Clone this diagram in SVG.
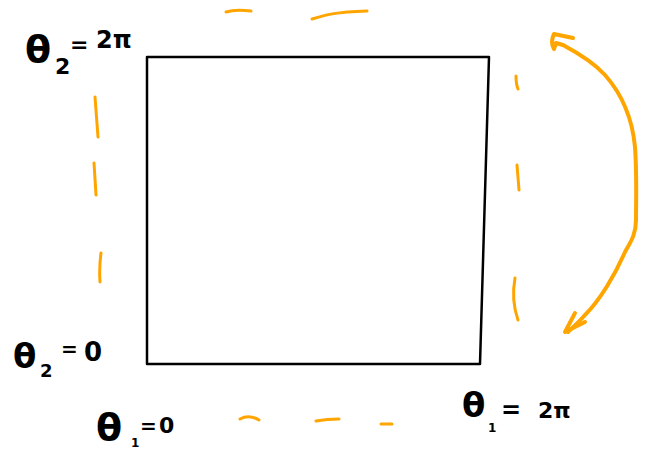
<svg xmlns="http://www.w3.org/2000/svg" width="652" height="455" viewBox="0 0 652 455">
<style>
.dash{fill:none;stroke:#FFA500;stroke-width:3;stroke-linecap:round;stroke-linejoin:round}
.arrow{fill:none;stroke:#FFA500;stroke-width:4;stroke-linecap:round;stroke-linejoin:round}
.lbl{font-family:"DejaVu Sans","Liberation Sans",sans-serif;font-weight:bold;fill:#000}
.sq{fill:none;stroke:#000;stroke-width:2.5;stroke-linejoin:round}
</style>
<rect width="652" height="455" fill="#fff"/>
<g id="square">
<path class="sq" d="M147,57 L489,57 L480,364 L147,364 Z"/>
</g>
<g id="connectors">
<g id="dashes">
<path class="dash" d="M226,12 Q235,9 251,11"/>
<path class="dash" d="M312,19 C325,15 335,12 367,11"/>
<path class="dash" d="M95,97 L98,137"/>
<path class="dash" d="M94,163 L96,195"/>
<path class="dash" d="M101,253 Q99,268 100,282"/>
<path class="dash" d="M516,76 Q516,84 518,89"/>
<path class="dash" d="M517,165 L519,190"/>
<path class="dash" d="M515,278 Q511,300 518,320"/>
<path class="dash" d="M240,419 Q249,414 259,420"/>
<path class="dash" d="M316,421 Q327,419 339,419"/>
<path class="dash" d="M381,424 L392,424"/>
</g>
<g id="arrow">
<path class="arrow" d="M563,45 C578,53 595,64 605,75 C620,92 632,115 635,147 C637,175 636,200 636,220 C636,235 630,243 625,252 C615,275 600,300 585,315 C578,323 572,328 568,332"/>
<path class="arrow" d="M573,38 L554,34 Q550,42 554,49 L556,43 L563,45"/>
<path class="arrow" d="M575,313 L565,332 L585,322"/>
</g>
</g>
<g id="label-top-left">
<text class="lbl" x="25" y="62" font-size="38">θ</text>
<text class="lbl" x="55" y="74" font-size="22">2</text>
<text class="lbl" x="70" y="52" font-size="22">=</text>
<text class="lbl" x="96" y="48" font-size="24">2π</text>
</g>
<g id="label-bottom-left">
<text class="lbl" x="13" y="368" font-size="34">θ</text>
<text class="lbl" x="40" y="377" font-size="18">2</text>
<text class="lbl" x="61" y="356" font-size="20">=</text>
<text class="lbl" x="84" y="361" font-size="26">0</text>
</g>
<g id="label-bottom">
<text class="lbl" x="96" y="440" font-size="38">θ</text>
<text class="lbl" x="131" y="447" font-size="12">1</text>
<text class="lbl" x="140" y="433" font-size="20">=</text>
<text class="lbl" x="159" y="433" font-size="22">0</text>
</g>
<g id="label-bottom-right">
<text class="lbl" x="462" y="417" font-size="34">θ</text>
<text class="lbl" x="488" y="432" font-size="12">1</text>
<text class="lbl" x="501" y="418" font-size="24">=</text>
<text class="lbl" x="538" y="418" font-size="22">2π</text>
</g>
</svg>
